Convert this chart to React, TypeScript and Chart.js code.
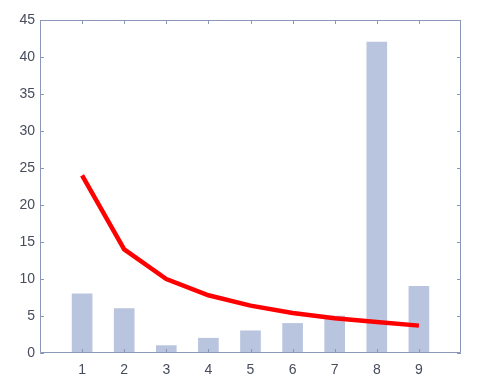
import React, { useEffect, useRef } from "react";
import { Chart, registerables } from "chart.js";

Chart.register(...registerables);

const xValues = [1, 2, 3, 4, 5, 6, 7, 8, 9];
const barValues = [8, 6, 1, 2, 3, 4, 5, 42, 9];
const lineValues = [24, 14, 10, 7.8, 6.4, 5.4, 4.7, 4.2, 3.7];
const yTicks = [0, 5, 10, 15, 20, 25, 30, 35, 40, 45];

const AXIS_COLOR = "#8a97b8";
const TEXT_COLOR = "#474c5c";

const boxPlugin = {
  id: "boxPlugin",
  afterDraw(chart: any) {
    const { ctx, chartArea, scales } = chart;
    const { left, right, top, bottom } = chartArea;
    ctx.save();
    ctx.strokeStyle = AXIS_COLOR;
    ctx.lineWidth = 1;
    ctx.beginPath();
    ctx.rect(left + 0.5, top + 0.5, right - left - 1, bottom - top - 1);
    ctx.stroke();
    const len = 4;
    ctx.beginPath();
    xValues.forEach((v) => {
      const px = Math.round(scales.x.getPixelForValue(v)) + 0.5;
      ctx.moveTo(px, bottom);
      ctx.lineTo(px, bottom - len);
      ctx.moveTo(px, top);
      ctx.lineTo(px, top + len);
    });
    yTicks.forEach((v) => {
      const py = Math.round(scales.y.getPixelForValue(v)) + 0.5;
      ctx.moveTo(left, py);
      ctx.lineTo(left + len, py);
      ctx.moveTo(right, py);
      ctx.lineTo(right - len, py);
    });
    ctx.stroke();
    ctx.restore();
  },
};

export default function App() {
  const ref = useRef<HTMLCanvasElement | null>(null);
  useEffect(() => {
    document.body.style.margin = "0";
    const canvas = ref.current!;
    const chart = new Chart(canvas, {
      type: "bar",
      data: {
        datasets: [
          {
            type: "line",
            data: xValues.map((x, i) => ({ x, y: lineValues[i] })),
            borderColor: "#ff0000",
            borderWidth: 4.5,
            pointRadius: 0,
            tension: 0,
            order: 0,
          } as any,
          {
            type: "bar",
            data: xValues.map((x, i) => ({ x, y: barValues[i] })),
            backgroundColor: "#b9c5de",
            barThickness: 20,
            order: 1,
          } as any,
        ],
      },
      options: {
        responsive: false,
        animation: false,
        layout: { padding: { top: 20, right: 34, left: 0, bottom: 0 } },
        plugins: { legend: { display: false }, tooltip: { enabled: false } },
        scales: {
          x: {
            type: "linear",
            min: 0,
            max: 10,
            offset: false,
            grid: { display: false, drawTicks: false },
            border: { display: false },
            afterBuildTicks: (scale: any) => {
              scale.ticks = xValues.map((v) => ({ value: v }));
            },
            afterFit: (scale: any) => {
              scale.height = 39;
            },
            ticks: {
              padding: 9,
              color: TEXT_COLOR,
              font: { family: "'Liberation Sans', Arial, sans-serif", size: 14 },
              maxRotation: 0,
            },
          },
          y: {
            min: 0,
            max: 45,
            grid: { display: false, drawTicks: false },
            border: { display: false },
            afterBuildTicks: (scale: any) => {
              scale.ticks = yTicks.map((v) => ({ value: v }));
            },
            afterFit: (scale: any) => {
              scale.width = 40;
            },
            ticks: {
              padding: 5,
              color: TEXT_COLOR,
              font: { family: "'Liberation Sans', Arial, sans-serif", size: 14 },
            },
          },
        },
      },
      plugins: [boxPlugin],
    });
    return () => chart.destroy();
  }, []);
  return <canvas ref={ref} width={495} height={392} style={{ display: "block" }} />;
}
